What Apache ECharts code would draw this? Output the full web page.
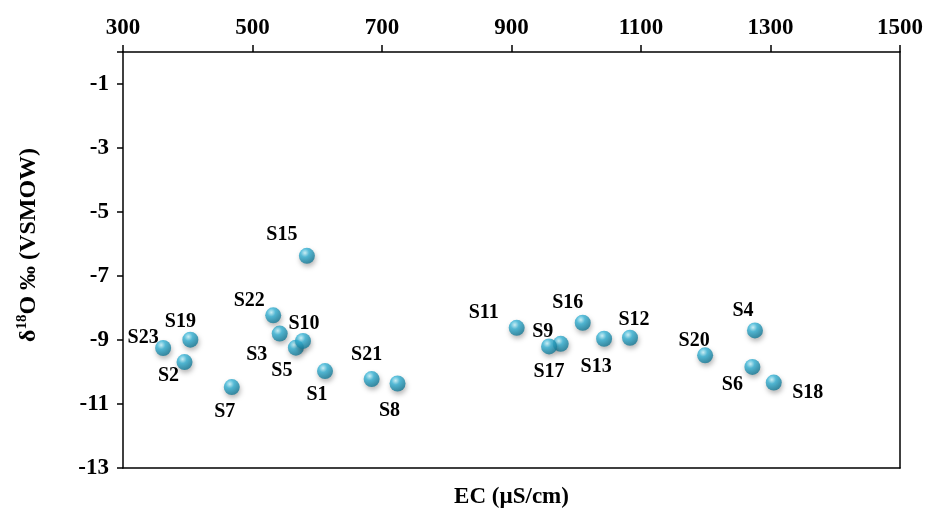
<!DOCTYPE html>
<html>
<head>
<meta charset="utf-8">
<script src="https://cdn.jsdelivr.net/npm/echarts@6/dist/echarts.min.js"></script>
<style>
  html, body { margin: 0; padding: 0; background: #fff; }
  #chart { width: 926px; height: 514px; }
</style>
</head>
<body>
<div id="chart"></div>
<script>
// sample sites, EC (µS/cm) and δ18O (‰ VSMOW)
const sites = ['S1', 'S2', 'S3', 'S4', 'S5', 'S6', 'S7', 'S8', 'S9', 'S10', 'S11', 'S12',
  'S13', 'S15', 'S16', 'S17', 'S18', 'S19', 'S20', 'S21', 'S22', 'S23']
const ec = [612, 395, 542, 1276, 567, 1272, 468, 724, 976, 578, 908, 1083,
  1043, 584, 1010, 958, 1305, 404, 1199, 684, 532, 362]
const d18o = [-9.97, -9.69, -8.80, -8.70, -9.24, -9.84, -10.47, -10.36, -9.12, -9.03, -8.62, -8.93,
  -8.96, -6.37, -8.46, -9.20, -10.33, -8.99, -9.48, -10.22, -8.23, -9.25]
const xTicks = [300, 500, 700, 900, 1100, 1300, 1500]
const yTicks = [-13, -11, -9, -7, -5, -3, -1]

// where each label sits relative to its ball (px)
const labelOffset = {
  S1: [-8, 24], S2: [-16, 14], S3: [-23, 21], S4: [-12, -20], S5: [-14, 23],
  S6: [-20, 18], S7: [-7, 25], S8: [-8, 27], S9: [-18, -12], S10: [1, -17],
  S11: [-33, -15], S12: [4, -18], S13: [-8, 28], S15: [-25, -21], S16: [-15, -20],
  S17: [0, 25], S18: [34, 10], S19: [-10, -18], S20: [-11, -15], S21: [-5, -24],
  S22: [-24, -15], S23: [-20, -10]
}

const font = 'Liberation Serif'
const black = '#000'
const ball = {
  type: 'radial', x: 0.38, y: 0.32, r: 0.75,
  colorStops: [
    { offset: 0, color: '#c8f4fc' },
    { offset: 0.35, color: '#35b3d6' },
    { offset: 1, color: '#10708c' }
  ]
}

const points = sites.map((s, i) => ({
  name: s,
  value: [ec[i], d18o[i]]
}))

const axisLine = { show: true, onZero: false, lineStyle: { color: black, width: 1.5 } }

const chart = echarts.init(document.getElementById('chart'))
chart.setOption({
  animation: false,
  backgroundColor: '#fff',
  grid: { left: 123, right: 26, top: 52, bottom: 44 },
  xAxis: [
    {
      type: 'value', position: 'top',
      min: xTicks[0], max: xTicks[xTicks.length - 1], interval: 200,
      axisLine: axisLine,
      axisTick: { show: true, inside: false, length: 7, lineStyle: { color: black, width: 1.5 } },
      axisLabel: {
        margin: 12, color: black, fontFamily: font, fontWeight: 'bold', fontSize: 23,
        formatter: (v) => String(v)
      },
      splitLine: { show: false }
    },
    {
      type: 'value', position: 'bottom',
      min: xTicks[0], max: xTicks[xTicks.length - 1], interval: 200,
      name: 'EC (µS/cm)', nameLocation: 'middle', nameGap: 18,
      nameTextStyle: { color: black, fontFamily: font, fontWeight: 'bold', fontSize: 23 },
      axisLine: axisLine,
      axisTick: { show: false },
      axisLabel: { show: false },
      splitLine: { show: false }
    }
  ],
  yAxis: [
    {
      type: 'value', position: 'left',
      min: yTicks[0], max: 0, interval: 2,
      axisLine: axisLine,
      axisTick: { show: true, inside: false, length: 6, lineStyle: { color: black, width: 1.5 } },
      axisLabel: {
        margin: 14, color: black, fontFamily: font, fontWeight: 'bold', fontSize: 23,
        formatter: (v) => (yTicks.includes(v) ? String(v) : '')
      },
      splitLine: { show: false },
      name: '{a|δ}{s|18}{a|O ‰ (VSMOW)}',
      nameLocation: 'middle', nameGap: 80,
      nameTextStyle: {
        padding: [0, 0, 0, 30],
        rich: {
          a: { color: black, fontFamily: font, fontWeight: 'bold', fontSize: 24, lineHeight: 28 },
          s: { color: black, fontFamily: font, fontWeight: 'bold', fontSize: 15, lineHeight: 28, verticalAlign: 'top' }
        }
      }
    },
    {
      type: 'value', position: 'right',
      min: yTicks[0], max: 0, interval: 2,
      axisLine: axisLine,
      axisTick: { show: false },
      axisLabel: { show: false },
      splitLine: { show: false }
    }
  ],
  series: [
    {
      type: 'scatter',
      xAxisIndex: 0,
      yAxisIndex: 0,
      symbolSize: 16,
      itemStyle: {
        color: ball,
        shadowBlur: 5,
        shadowColor: 'rgba(0,0,0,0.35)',
        shadowOffsetX: 1,
        shadowOffsetY: 3
      },
      label: {
        show: true,
        position: ['50%', '50%'],
        align: 'center',
        verticalAlign: 'middle',
        formatter: '{b}',
        color: black,
        opacity: 1,
        fontFamily: font,
        fontWeight: 'bold',
        fontSize: 20
      },
      labelLayout: (p) => {
        const o = labelOffset[sites[p.dataIndex]]
        return { dx: o[0], dy: o[1], hideOverlap: false }
      },
      data: points
    }
  ]
})
</script>
</body>
</html>
